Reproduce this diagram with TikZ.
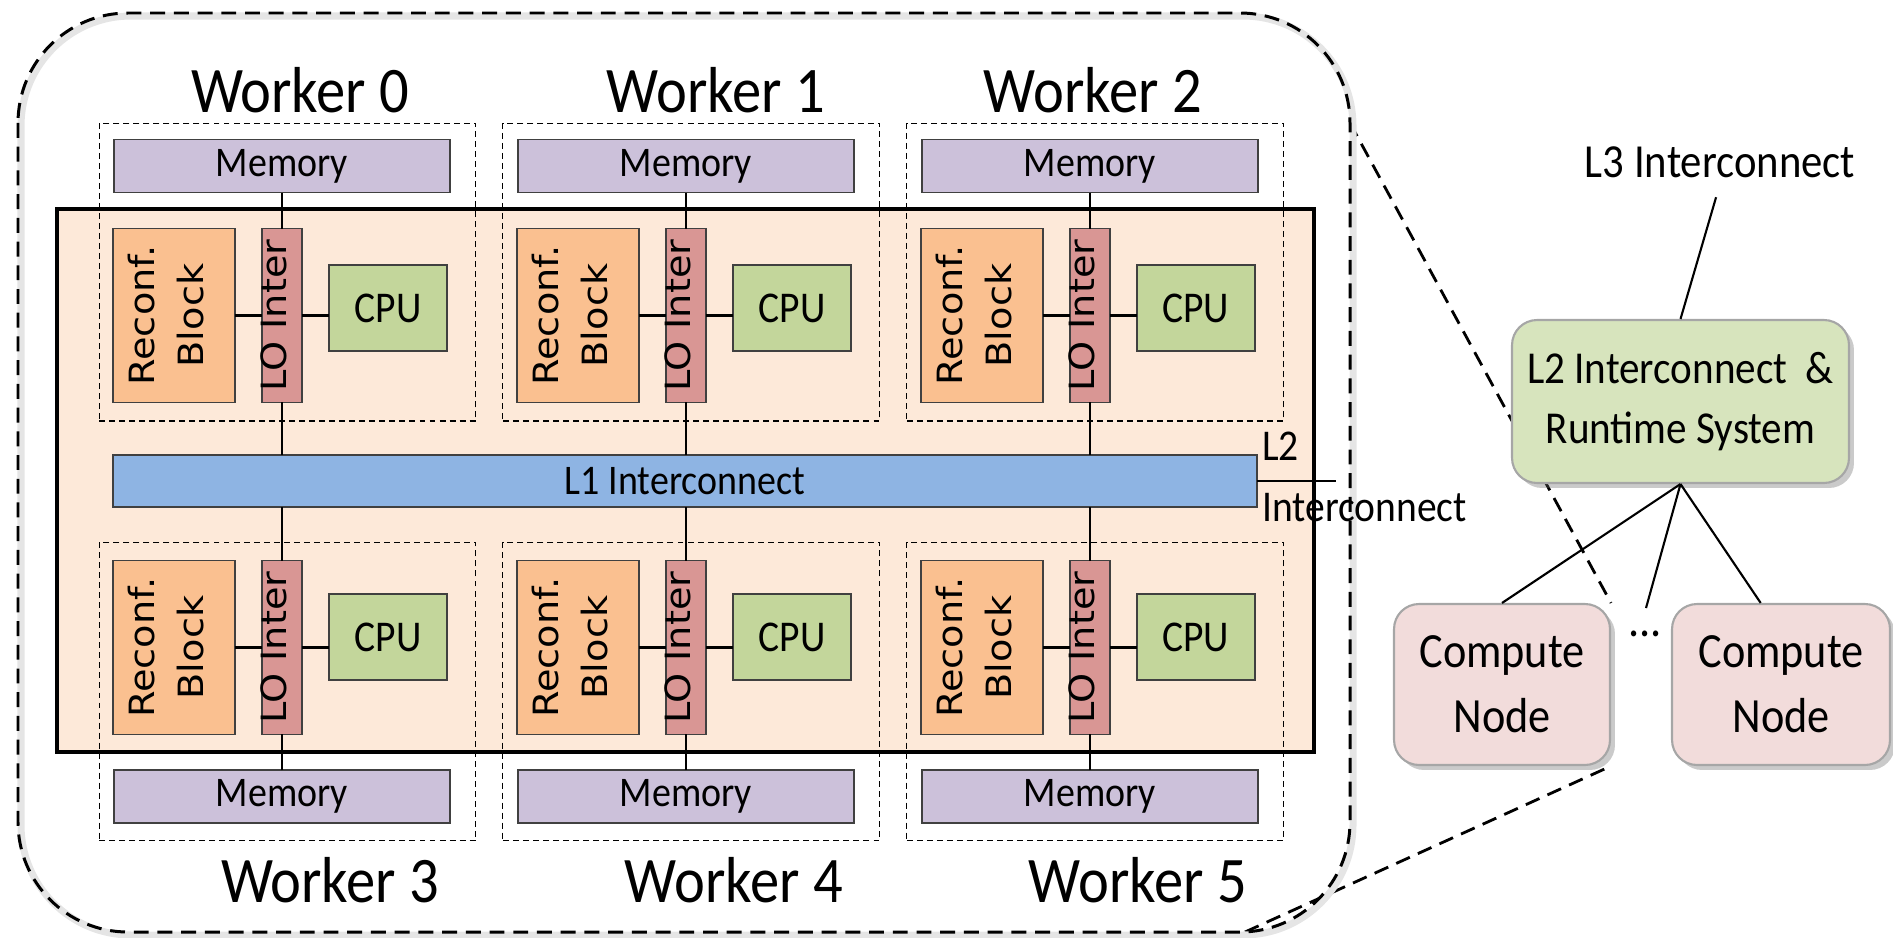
\documentclass[tikz,border=0pt]{standalone}
\usepackage{fontspec}
\setmainfont{Carlito}[FakeStretch=0.9]
\newfontfamily\rotfont{DejaVu Sans}[FakeStretch=1.1]
\usetikzlibrary{shadows,backgrounds}

\definecolor{memfill}{HTML}{CCC1DA}
\definecolor{rbfill}{HTML}{FAC090}
\definecolor{lofill}{HTML}{D99694}
\definecolor{cpufill}{HTML}{C3D69B}
\definecolor{lonefill}{HTML}{8EB4E3}
\definecolor{chipfill}{HTML}{FDE9D9}
\definecolor{ltwofill}{HTML}{D7E4BD}
\definecolor{cnfill}{HTML}{F2DCDB}
\definecolor{boxline}{HTML}{404040}

\tikzset{
  blk/.style={draw=boxline, line width=0.9pt, inner sep=0pt, outer sep=0pt},
  membox/.style={blk, fill=memfill, minimum width=6.72cm, minimum height=1.06cm, font=\fontsize{24}{28}\selectfont},
  rbbox/.style={blk, fill=rbfill, minimum width=2.44cm, minimum height=3.48cm},
  lobox/.style={blk, fill=lofill, minimum width=0.8cm, minimum height=3.48cm},
  cpubox/.style={blk, fill=cpufill, minimum width=2.36cm, minimum height=1.72cm, font=\fontsize{25}{30}\selectfont},
  l1box/.style={blk, fill=lonefill, minimum width=22.88cm, minimum height=1.04cm, font=\fontsize{24}{28}\selectfont},
  wkbox/.style={draw, dash pattern=on 3.4pt off 2.3pt, line width=0.6pt, minimum width=7.54cm, minimum height=5.96cm, inner sep=0pt},
  wklabel/.style={anchor=base, inner sep=0pt, font=\fontsize{37}{44}\selectfont},
  rottext/.style={rotate=90, align=center, inner sep=0pt, yshift=0.16cm, font=\rotfont\fontsize{19.8}{28}\selectfont},
  link/.style={line width=1.2pt},
  zoomline/.style={line width=1.6pt, dash pattern=on 8.5pt off 5pt},
  rnode/.style={draw=black!35, line width=1.2pt, rounded corners=0.5cm, align=center, inner sep=0pt,
    drop shadow={shadow xshift=0.1cm, shadow yshift=-0.1cm, opacity=0.35, fill=black!60}},
}

\begin{document}
\begin{tikzpicture}[x=0.02cm, y=-0.02cm]
\useasboundingbox (0,0) rectangle (1893,937);

% cluster outline
\draw[black!10, line width=4pt, rounded corners=2.2cm] (21,16) rectangle (1353,935);
\draw[line width=1.7pt, dash pattern=on 8.5pt off 5pt, rounded corners=2.2cm] (18,13) rectangle (1350,932);
\coordinate (ctop) at (1350,123);
\coordinate (cbot) at (1245,932);

% chip
\draw[fill=chipfill, line width=2.3pt] (57,209) rectangle (1314,752);
\node[l1box] (l1) at (685,481) {L1 Interconnect};
\coordinate (l2end) at (1336,481);
\draw[link] (l1.east) -- (l2end);
\node[anchor=west, align=left, inner sep=0pt, font=\fontsize{25}{35}\selectfont] (l2lbl) at (1262,477) {L2\\Interconnect};

% workers 0-2
\foreach \i/\lx in {0/300,1/312,2/285}{
\begin{scope}[xshift=\i*8.08cm]
\node[wkbox] (w\i) at (287.5,272) {};
\node[wklabel] (wl\i) at (\lx,112) {Worker \i};
\node[membox] (mem\i) at (282,166) {Memory};
\node[rbbox] (rb\i) at (174,315.5) {};
\node[rottext] (rbt\i) at (rb\i) {Reconf.\\Block};
\node[lobox] (lo\i) at (282,315.5) {};
\node[rottext] (lot\i) at (lo\i) {LO Inter};
\node[cpubox] (cpu\i) at (388,308) {CPU};
\draw[link] (mem\i) -- (lo\i);
\draw[link] (rb\i) -- (lo\i);
\draw[link] (lo\i.east) -- (lo\i.east -| cpu\i.west);
\draw[link] (lo\i.south) -- (lo\i.south |- l1.north);
\end{scope}
}

% workers 3-5
\foreach \i/\j in {0/3,1/4,2/5}{
\begin{scope}[xshift=\i*8.08cm]
\node[wkbox] (w\j) at (287.5,691.5) {};
\node[wklabel] (wl\j) at (330,902) {Worker \j};
\node[membox] (mem\j) at (282,796.5) {Memory};
\node[rbbox] (rb\j) at (174,647.5) {};
\node[rottext] (rbt\j) at (rb\j) {Reconf.\\Block};
\node[lobox] (lo\j) at (282,647.5) {};
\node[rottext] (lot\j) at (lo\j) {LO Inter};
\node[cpubox] (cpu\j) at (388,637) {CPU};
\draw[link] (mem\j) -- (lo\j);
\draw[link] (rb\j) -- (lo\j);
\draw[link] (lo\j.east) -- (lo\j.east -| cpu\j.west);
\draw[link] (lo\j.north) -- (lo\j.north |- l1.south);
\end{scope}
}

% system level
\node[font=\fontsize{27}{32}\selectfont] (l3) at (1720,162) {L3 Interconnect};
\node[rnode, fill=ltwofill, minimum width=6.74cm, minimum height=3.26cm, font=\fontsize{26}{34}\selectfont] (l2) at (1680.5,401.5) {L2 Interconnect \ \&\\Runtime System};
\node[rnode, fill=cnfill, minimum width=4.32cm, minimum height=3.22cm, font=\fontsize{28}{37}\selectfont] (cn1) at (1502,684.5) {Compute\\Node};
\node[rnode, fill=cnfill, minimum width=4.36cm, minimum height=3.22cm, font=\fontsize{28}{37}\selectfont] (cn2) at (1781,684.5) {Compute\\Node};
\node[inner sep=0pt, font=\fontsize{28}{34}\selectfont] (dots) at (1645,634) {...};
\coordinate (dotstop) at (1646,608);

\draw[link, shorten <=0.28cm] (l3.south) -- (l2.north);
\draw[link] (l2.south) -- (cn1.north);
\draw[link] (l2.south) -- (dotstop);
\draw[link] (l2.south) -- (cn2.104);

\begin{scope}[on background layer]
\draw[zoomline] (ctop) -- (cn1.north east);
\draw[zoomline] (cbot) -- (cn1.south east);
\end{scope}

\end{tikzpicture}
\end{document}
